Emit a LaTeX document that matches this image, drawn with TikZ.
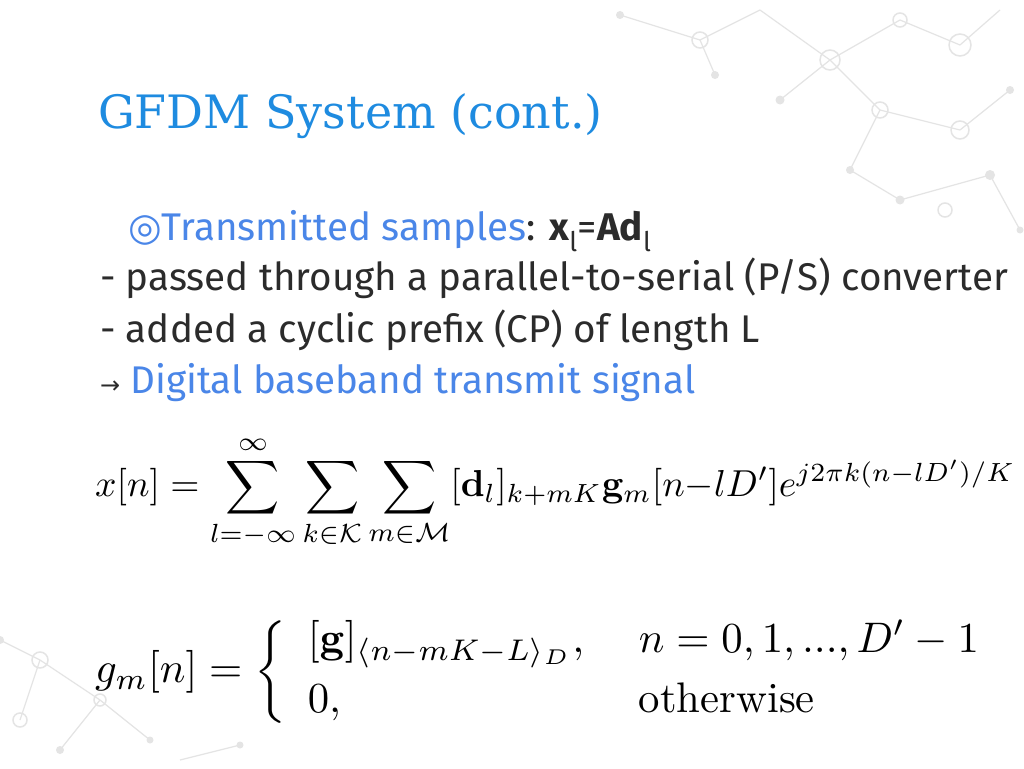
\documentclass[tikz,border=0pt]{standalone}
\usepackage{amsmath,amssymb}
\usepackage[no-math]{fontspec}
\usepackage{graphicx}
\setmainfont{Fira Sans}
\newfontfamily\titlefont{DejaVu Serif}
\newfontfamily\symfont{DejaVu Sans}
\newfontfamily\lmfont{Latin Modern Roman}
\definecolor{titleblue}{HTML}{1E8BE0}
\definecolor{linkblue}{HTML}{4A86E8}
\definecolor{bodygrey}{HTML}{2B2B2B}
\definecolor{netgrey}{HTML}{E4E4E4}
\tikzset{
  txt/.style={anchor=base west,inner sep=0pt,text=bodygrey,font=\fontsize{38.6}{42}\selectfont},
  net/.style={draw=netgrey,line width=1.2pt},
  dot/.style={circle,fill=netgrey,inner sep=0pt,minimum size=#1},
  ring/.style={circle,draw=netgrey,line width=1.5pt,inner sep=0pt,minimum size=#1}
}
\begin{document}
\begin{tikzpicture}[x=1pt,y=-1pt]
\useasboundingbox[fill=white] (0,0) rectangle (1024,768);
% network decoration, top right
\foreach \a/\b in {{620,15}/{700,40},{700,40}/{760,10},{760,10}/{830,60},{830,60}/{900,20},{900,20}/{960,45},
  {830,60}/{880,110},{880,110}/{960,130},{960,130}/{1010,90},{880,110}/{850,170},{850,170}/{900,200},
  {900,200}/{990,175},{990,175}/{1020,230},{700,40}/{715,75},{780,100}/{830,60},{960,45}/{1000,10}}
  \draw[net] (\a) -- (\b);
\foreach \p/\s in {{620,15}/8,{715,75}/8,{780,100}/9,{850,170}/8,{900,200}/9,{990,175}/10,{1010,90}/8,{1020,230}/7}
  \node[dot=\s] at (\p) {};
\foreach \p/\s in {{700,40}/16,{830,60}/20,{900,20}/14,{960,45}/22,{880,110}/16,{960,130}/18,{945,210}/14}
  \node[ring=\s] at (\p) {};
% network decoration, bottom left
\foreach \a/\b in {{0,640}/{40,660},{40,660}/{100,700},{100,700}/{60,750},{40,660}/{20,720},{150,740}/{100,700},{180,760}/{240,745}}
  \draw[net] (\a) -- (\b);
\foreach \p/\s in {{40,660}/16,{100,700}/12,{20,720}/14}
  \node[ring=\s] at (\p) {};
\foreach \p/\s in {{60,750}/8,{150,740}/7,{0,640}/8,{240,745}/7}
  \node[dot=\s] at (\p) {};
% title
\node[anchor=base west,inner sep=0pt,text=titleblue,font=\titlefont\fontsize{46}{52}\selectfont] (title) at (98,128) {GFDM System (cont.)};
% body
\node[txt] (l1) at (128,240) {{\symfont\textcolor{linkblue}{◎}}\textcolor{linkblue}{Transmitted samples}: \textbf{x}\textsubscript{l}=\textbf{Ad}\textsubscript{l}};
\node[txt] (l2) at (100,290) {- passed through a parallel-to-serial (P/S) converter};
\node[txt] (l3) at (100,342) {- added a cyclic prefix (CP) of length L};
\node[txt] (l4) at (100,393) {{\symfont\fontsize{24}{28}\selectfont →} \textcolor{linkblue}{Digital baseband transmit signal}};
% formulas
\node[anchor=west,inner sep=0pt] (eqx) at (95,492)
  {\resizebox{920pt}{!}{$x[n]=\displaystyle\sum_{l=-\infty}^{\infty}\sum_{k\in\mathcal{K}}\sum_{m\in\mathcal{M}}[\mathbf{d}_l]_{k+mK}\mathbf{g}_m[n{-}lD']e^{j2\pi k(n-lD')/K}$}};
\node[anchor=west,inner sep=0pt] (eqg) at (95,672)
  {\resizebox{910pt}{!}{$g_m[n]=\left\{\begin{array}{ll}[\mathbf{g}]_{\langle n-mK-L\rangle_D}, & \; n=0,1,...,D'-1\\[2pt] 0, & \; \text{\lmfont otherwise}\end{array}\right.$}};
\end{tikzpicture}
\end{document}
